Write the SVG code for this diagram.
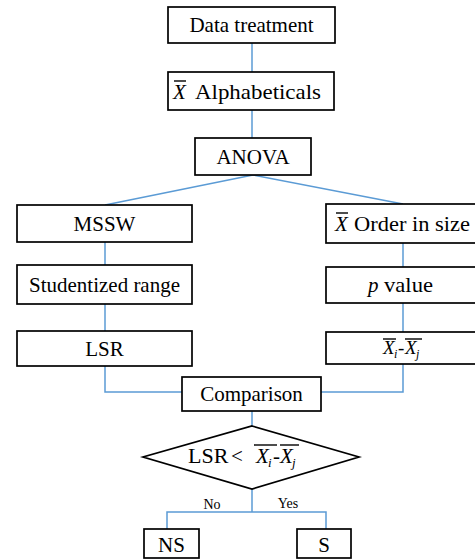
<svg xmlns="http://www.w3.org/2000/svg" width="475" height="560" viewBox="0 0 475 560" font-family="'Liberation Serif', 'DejaVu Serif', serif">
  <style>
    .box { fill: #ffffff; stroke: #000000; stroke-width: 1.7; }
    .link { fill: none; stroke: #5b9bd5; stroke-width: 1.5; }
    .bar { stroke: #000000; stroke-width: 1.4; }
    text { font-family: 'Liberation Serif', 'DejaVu Serif', serif; fill: #000000; }
    .lbl { font-size: 21px; text-anchor: middle; }
    .it { font-style: italic; }
    .small { font-size: 14px; text-anchor: middle; }
  </style>
  <rect width="475" height="560" fill="#ffffff"/>

  <!-- connectors -->
  <g id="connectors">
    <path class="link" d="M252 43V72"/>
    <path class="link" d="M252 110V138"/>
    <path class="link" d="M253 175L105 205"/>
    <path class="link" d="M253 175L403 204"/>
    <path class="link" d="M105 242V265"/>
    <path class="link" d="M105 304V331"/>
    <path class="link" d="M403 243V267"/>
    <path class="link" d="M403 303V332"/>
    <path class="link" d="M105 366V392H182"/>
    <path class="link" d="M403 364V392H321"/>
    <path class="link" d="M252 411V426"/>
    <path class="link" d="M252 489V512"/>
    <path class="link" d="M167 529V512H326V529"/>
  </g>

  <g id="data-treatment">
    <rect class="box" x="168" y="7" width="167" height="36"/>
    <text class="lbl" x="251.5" y="32">Data treatment</text>
  </g>

  <g id="alphabeticals">
    <rect class="box" x="168" y="72" width="166" height="38"/>
    <text x="173" y="99" font-size="21" class="it">X</text>
    <line class="bar" x1="174" y1="81" x2="186" y2="81"/>
    <text x="195" y="99" font-size="21" textLength="126" lengthAdjust="spacingAndGlyphs">Alphabeticals</text>
  </g>

  <g id="anova">
    <rect class="box" x="195" y="138" width="116" height="37"/>
    <text class="lbl" x="253" y="164">ANOVA</text>
  </g>

  <g id="mssw">
    <rect class="box" x="17" y="205" width="175" height="37"/>
    <text class="lbl" x="104.5" y="231">MSSW</text>
  </g>

  <g id="studentized-range">
    <rect class="box" x="17" y="265" width="175" height="39"/>
    <text class="lbl" x="104.5" y="292">Studentized range</text>
  </g>

  <g id="lsr">
    <rect class="box" x="17" y="331" width="175" height="35"/>
    <text class="lbl" x="104.5" y="356">LSR</text>
  </g>

  <g id="order-in-size">
    <rect class="box" x="326" y="204" width="154" height="39"/>
    <text x="335" y="231" font-size="21" class="it">X</text>
    <line class="bar" x1="336" y1="213" x2="348" y2="213"/>
    <text x="354" y="231" font-size="21" textLength="116" lengthAdjust="spacingAndGlyphs">Order in size</text>
  </g>

  <g id="p-value">
    <rect class="box" x="326" y="267" width="154" height="36"/>
    <text x="368" y="292" font-size="21" class="it">p</text>
    <text x="384" y="292" font-size="21" textLength="49" lengthAdjust="spacingAndGlyphs">value</text>
  </g>

  <g id="mean-difference">
    <rect class="box" x="326" y="332" width="154" height="32"/>
    <text x="383" y="354" font-size="19" class="it">X</text>
    <text x="394" y="358" font-size="12" class="it">i</text>
    <text x="398" y="354" font-size="19">-</text>
    <text x="405" y="354" font-size="19" class="it">X</text>
    <text x="416" y="358" font-size="12" class="it">j</text>
    <line class="bar" x1="383" y1="339" x2="396" y2="339"/>
    <line class="bar" x1="405" y1="339" x2="422" y2="339"/>
  </g>

  <g id="comparison">
    <rect class="box" x="182" y="377" width="139" height="34"/>
    <text class="lbl" x="251.5" y="401">Comparison</text>
  </g>

  <g id="decision">
    <polygon class="box" points="252,426 359,457 252,489 143,457"/>
    <text x="188" y="463" font-size="22">LSR</text>
    <text x="231" y="463" font-size="21">&lt;</text>
    <text x="256" y="463" font-size="21" class="it">X</text>
    <text x="268" y="467" font-size="13" class="it">i</text>
    <text x="273" y="463" font-size="21">-</text>
    <text x="280" y="463" font-size="21" class="it">X</text>
    <text x="292" y="467" font-size="13" class="it">j</text>
    <line class="bar" x1="254" y1="445" x2="277" y2="445"/>
    <line class="bar" x1="280" y1="445" x2="299" y2="445"/>
  </g>

  <g id="branch-labels">
    <text class="small" x="212" y="509">No</text>
    <text class="small" x="288" y="508">Yes</text>
  </g>

  <g id="ns">
    <rect class="box" x="144" y="529" width="55" height="29"/>
    <text class="lbl" x="171.5" y="552">NS</text>
  </g>

  <g id="s">
    <rect class="box" x="297" y="529" width="54" height="29"/>
    <text class="lbl" x="324" y="552">S</text>
  </g>
</svg>
